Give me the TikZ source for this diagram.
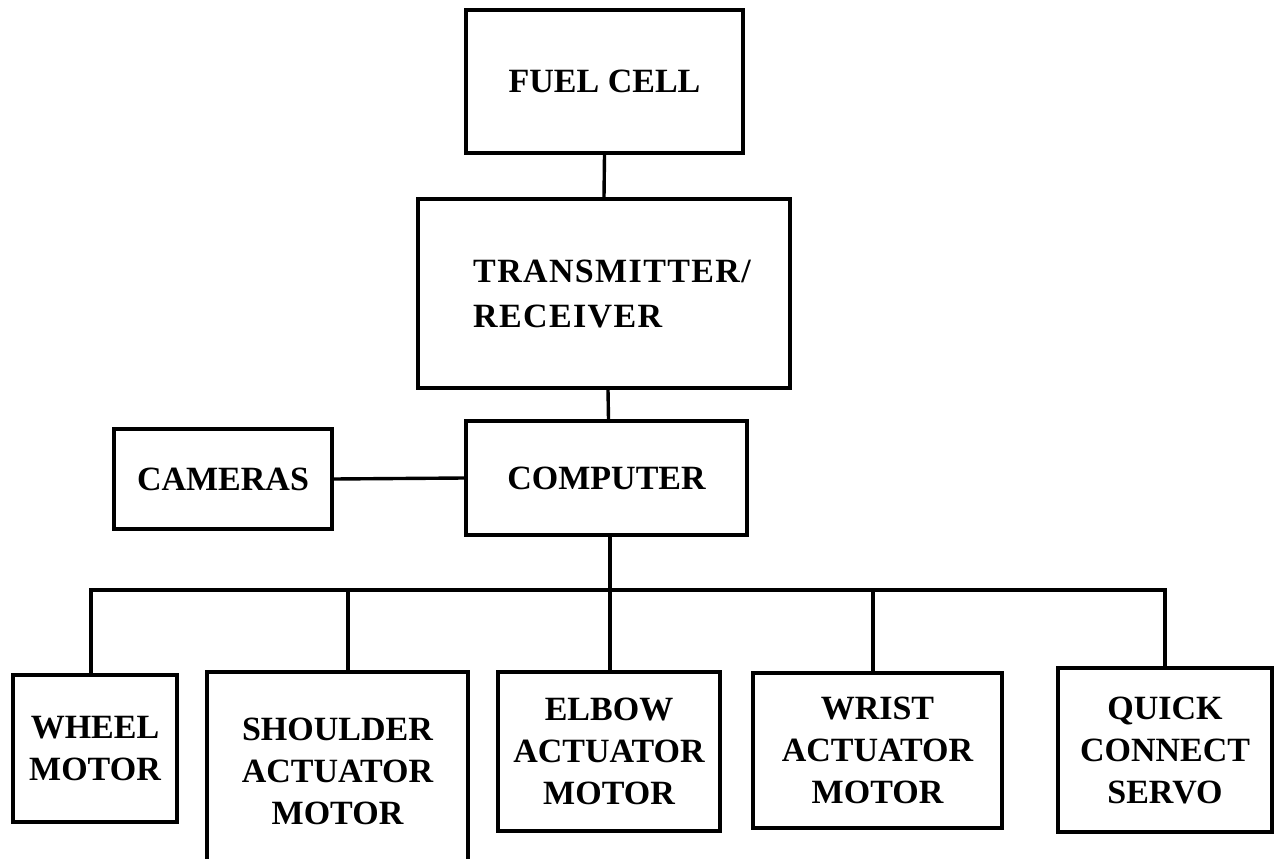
\documentclass[tikz,border=0pt]{standalone}
\usepackage{fontspec}
\setmainfont{Liberation Serif}
\begin{document}
\begin{tikzpicture}[x=1pt,y=-1pt,
  box/.style={draw=black, line width=3.6pt, inner sep=0pt, align=center,
    font=\bfseries\fontsize{34}{42}\selectfont},
  wire/.style={line width=3.4pt}]
\clip (0,0) rectangle (1278,859);
\fill[white] (0,0) rectangle (1278,859);
% boxes
\node[box, minimum width=277pt, minimum height=143pt] (fuel) at (604.5,81.5) {\raisebox{-4pt}{FUEL CELL}};
\node[box, minimum width=372pt, minimum height=189pt, align=left, font=\bfseries\fontsize{34}{45}\selectfont\addfontfeatures{LetterSpace=4}] (trans) at (604,293.5) {\hspace*{16pt}TRANSMITTER/\\\hspace*{16pt}RECEIVER};
\node[box, minimum width=281pt, minimum height=114pt] (comp) at (606.5,478) {\raisebox{-5pt}{COMPUTER}};
\node[box, minimum width=218pt, minimum height=100pt] (cam) at (223,479) {CAMERAS};
\node[box, minimum width=164pt, minimum height=147pt] (wheel) at (95,748.5) {WHEEL\\MOTOR};
\node[box, minimum width=261pt, minimum height=198pt] (shoulder) at (337.5,771) {SHOULDER\\ACTUATOR\\MOTOR};
\node[box, minimum width=222pt, minimum height=159pt] (elbow) at (609,751.5) {ELBOW\\ACTUATOR\\MOTOR};
\node[box, minimum width=249pt, minimum height=155pt] (wrist) at (877.5,750.5) {WRIST\\ACTUATOR\\MOTOR};
\node[box, minimum width=214pt, minimum height=164pt] (quick) at (1165,750) {QUICK\\CONNECT\\SERVO};
% bus
\coordinate (busL) at (91,590);
\coordinate (busR) at (1165,590);
\coordinate (busS) at (348,590);
\coordinate (busC) at (610,590);
\coordinate (busW) at (873,590);
% connectors
\draw[wire] (fuel.south) -- (trans.north);
\draw[wire] ([xshift=4pt]trans.south) -- ([xshift=2pt]comp.north);
\draw[wire] (cam.east) -- (comp.west);
\draw[wire] (comp.south -| busC) -- (busC);
\draw[wire, line cap=rect] (busL) -- (busR);
\draw[wire] (busL) -- (busL |- wheel.north);
\draw[wire] (busS) -- (busS |- shoulder.north);
\draw[wire] (busC) -- (busC |- elbow.north);
\draw[wire] (busW) -- (busW |- wrist.north);
\draw[wire] (busR) -- (quick.north);
\end{tikzpicture}
\end{document}
